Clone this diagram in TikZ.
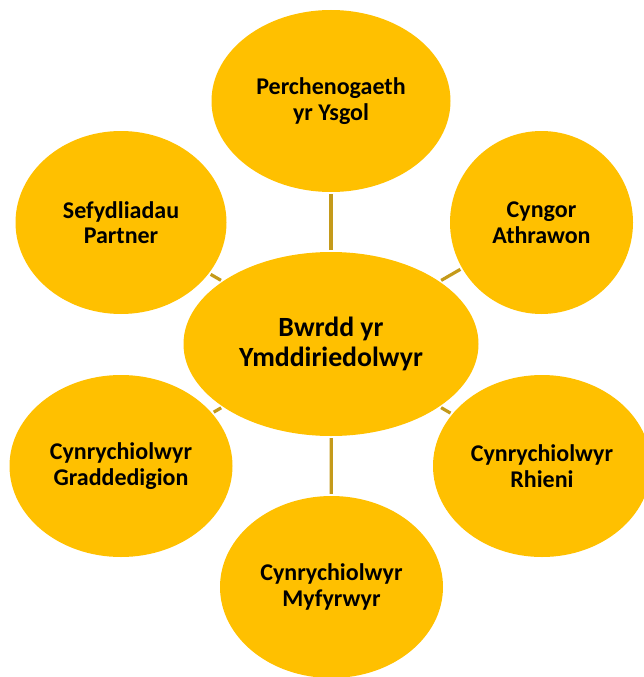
\documentclass[tikz,border=0pt]{standalone}
\usepackage{fontspec}
\setmainfont{Carlito}
\usetikzlibrary{shapes.geometric}
\definecolor{bubblegold}{HTML}{FFC000}
\definecolor{linkgold}{HTML}{C49A1A}
\begin{document}
\begin{tikzpicture}[x=1pt,y=-1pt,line join=round]
    \tikzset{bubble/.style={ellipse,fill=bubblegold,inner sep=0pt,align=center,font=\bfseries\fontsize{24}{25.5}\selectfont},
             link/.style={linkgold,line width=3.2pt,shorten <=2pt,shorten >=2pt}}
    \useasboundingbox (0,0) rectangle (643,677);
    \node[bubble,minimum width=295pt,minimum height=184pt,font=\bfseries\fontsize{27.8}{30}\selectfont] (board) at (331,344) {Bwrdd yr\\Ymddiriedolwyr};
    \node[bubble,minimum width=239pt,minimum height=182pt] (owner) at (331,101) {Perchenogaeth\\yr Ysgol};
    \node[bubble,minimum width=211pt,minimum height=183pt] (partner) at (121,222.5) {Sefydliadau\\Partner};
    \node[bubble,minimum width=183pt,minimum height=183pt] (teachers) at (541.5,222.5) {Cyngor\\Athrawon};
    \node[bubble,minimum width=223pt,minimum height=182pt] (graduates) at (121,466) {Cynrychiolwyr\\Graddedigion};
    \node[bubble,minimum width=218pt,minimum height=182pt] (parents) at (542,466) {Cynrychiolwyr\\Rhieni};
    \node[bubble,minimum width=223pt,minimum height=182pt] (students) at (331.5,587) {Cynrychiolwyr\\Myfyrwyr};
    \foreach \n in {owner,partner,teachers,graduates,parents,students}
        \draw[link] (board) -- (\n);
\end{tikzpicture}
\end{document}
